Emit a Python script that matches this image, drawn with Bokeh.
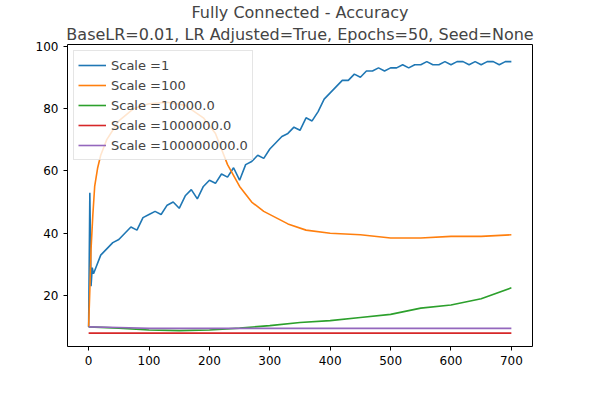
from bokeh.plotting import figure
from bokeh.models import Title, Legend, LegendItem, FixedTicker, Range1d
from bokeh.embed import file_html
from bokeh.resources import INLINE

# Scale = 1 (noisy, rising)
x_s1 = [0, 2, 4, 6, 8] + list(range(10, 701, 10))
y_s1 = [10, 53, 23, 29, 27,
        28, 33, 35, 37, 38, 40, 42, 41, 45, 46,
        47, 46, 49, 50, 48, 52, 54, 51, 55, 57,
        56, 59, 58, 61, 57, 62, 63, 65, 64, 67,
        69, 71, 72, 74, 73, 77, 76, 79, 83, 85,
        87, 89, 89, 91, 90, 92, 92, 93, 92, 93,
        93, 94, 93, 94, 94, 95, 94, 94, 95, 94,
        95, 95, 94, 95, 94, 95, 95, 94, 95, 95]
# Scale = 100
x_s100 = [0, 2, 4, 7, 10, 15, 20, 30, 40, 50, 75, 100, 130, 160, 190, 210, 230,
          250, 270, 290, 310, 330, 360, 400, 450, 500, 550, 600, 650, 700]
y_s100 = [10, 22, 35, 46, 55, 61, 65, 70, 73, 76, 80, 81.5, 82, 81, 77, 72, 62,
          55, 50, 47, 45, 43, 41, 40, 39.5, 38.5, 38.5, 39, 39, 39.5]
# Scale = 10000.0
x_s1e4 = [0, 50, 100, 150, 200, 250, 300, 350, 400, 450, 500, 550, 600, 650, 700]
y_s1e4 = [10, 9.6, 9, 8.8, 9, 9.6, 10.4, 11.4, 12, 13, 14, 16, 17, 19, 22.5]
# Scale = 1000000.0
x_s1e6 = [0, 700]
y_s1e6 = [8, 8]
# Scale = 100000000.0
x_s1e8 = [0, 50, 100, 700]
y_s1e8 = [10, 9.8, 9.5, 9.5]

labels = ["Scale =1", "Scale =100", "Scale =10000.0", "Scale =1000000.0", "Scale =100000000.0"]
colors = ["#1f77b4", "#ff7f0e", "#2ca02c", "#d62728", "#9467bd"]
series = [(x_s1, y_s1), (x_s100, y_s100), (x_s1e4, y_s1e4), (x_s1e6, y_s1e6), (x_s1e8, y_s1e8)]

p = figure(frame_width=465, frame_height=302, output_backend="svg", toolbar_location=None,
           x_range=Range1d(-35, 735), y_range=Range1d(3.7, 100.5),
           min_border_left=67, min_border_right=52, min_border_top=0, min_border_bottom=42)
p.title.text = "Fully Connected - Accuracy"
p.title.align = "center"
p.title.text_font = "DejaVu Sans"
p.title.text_font_size = "16px"
p.title.text_font_style = "normal"
p.title.offset = 0
p.title.standoff = 0
p.add_layout(Title(text="BaseLR=0.01, LR Adjusted=True, Epochs=50, Seed=None", align="center",
                   text_font="DejaVu Sans", text_font_size="16px", text_font_style="normal",
                   standoff=2), "above")

items = []
for (xs, ys), lab, c in zip(series, labels, colors):
    r = p.line(xs, ys, line_color=c, line_width=1.6)
    items.append(LegendItem(label=lab, renderers=[r]))

leg = Legend(items=items, location="top_left", label_text_font="DejaVu Sans",
             label_text_font_size="13px", spacing=0, padding=4, margin=6,
             glyph_width=28, label_height=14, border_line_color="#cccccc",
             background_fill_alpha=0.8)
p.add_layout(leg)

p.xgrid.grid_line_color = None
p.ygrid.grid_line_color = None
p.xaxis.ticker = FixedTicker(ticks=list(range(0, 701, 100)))
p.yaxis.ticker = FixedTicker(ticks=[20, 40, 60, 80, 100])
for ax in (p.xaxis, p.yaxis):
    ax.major_label_text_font = "DejaVu Sans"
    ax.major_label_text_font_size = "12px"
    ax.major_label_text_color = "black"
    ax.minor_tick_line_color = None
    ax.major_tick_out = 4
    ax.major_tick_in = 0
    ax.axis_line_color = None
p.outline_line_color = "black"

open("out.html", "w").write(file_html(p, INLINE))
